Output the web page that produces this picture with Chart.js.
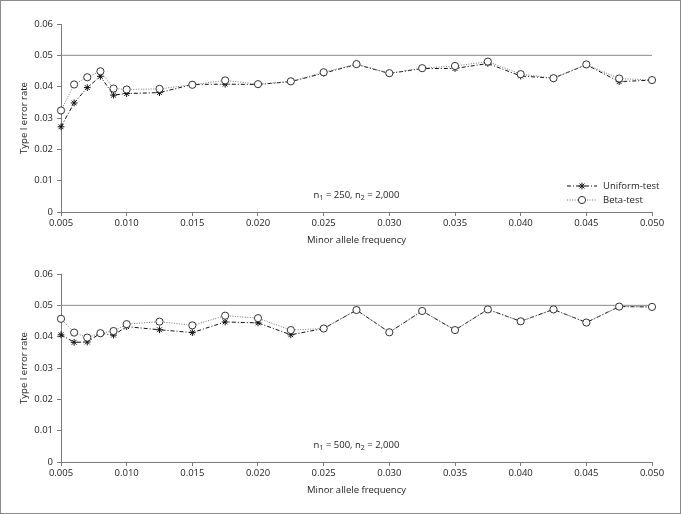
<!DOCTYPE html>
<html>
<head>
<meta charset="utf-8">
<script src="https://cdn.jsdelivr.net/npm/chart.js@4.4.1/dist/chart.umd.min.js"></script>
<style>
  html, body { margin: 0; padding: 0; background: #fff; }
  #page { position: relative; width: 681px; height: 514px; overflow: hidden; }
  #frame { position: absolute; left: 0; top: 0; width: 681px; height: 514px; box-sizing: border-box; border: 1.5px solid #8a8a8a; pointer-events: none; }
  .panel { position: absolute; left: 0; width: 681px; height: 257px; }
</style>
</head>
<body>
<div id="page">
  <div class="panel" style="top:0"><canvas id="topChart"></canvas></div>
  <div class="panel" style="top:250px"><canvas id="bottomChart"></canvas></div>
  <div id="frame"></div>
</div>
<script>
// minor allele frequencies tested (same grid in both panels)
const maf = [0.005, 0.006, 0.007, 0.008, 0.009, 0.010, 0.0125, 0.015, 0.0175, 0.020, 0.0225,
             0.025, 0.0275, 0.030, 0.0325, 0.035, 0.0375, 0.040, 0.0425, 0.045, 0.0475, 0.050];

// n1 = 250, n2 = 2,000
const uniformTop = [0.0272, 0.0348, 0.0397, 0.0433, 0.0373, 0.0378, 0.0381, 0.0407, 0.0408, 0.0407, 0.0416,
                    0.0443, 0.0471, 0.0442, 0.0458, 0.0458, 0.0474, 0.0434, 0.0427, 0.0470, 0.0416, 0.0421];
const betaTop    = [0.0324, 0.0407, 0.0430, 0.0449, 0.0394, 0.0391, 0.0393, 0.0406, 0.0420, 0.0408, 0.0417,
                    0.0446, 0.0472, 0.0443, 0.0459, 0.0466, 0.0480, 0.0440, 0.0427, 0.0471, 0.0426, 0.0421];

// n1 = 500, n2 = 2,000
const uniformBottom = [0.0406, 0.0382, 0.0383, 0.0411, 0.0405, 0.0432, 0.0422, 0.0413, 0.0447, 0.0444, 0.0406,
                       0.0426, 0.0485, 0.0414, 0.0482, 0.0421, 0.0487, 0.0449, 0.0487, 0.0445, 0.0496, 0.0495];
const betaBottom    = [0.0457, 0.0413, 0.0397, 0.0411, 0.0418, 0.0440, 0.0448, 0.0436, 0.0467, 0.0459, 0.0421,
                       0.0426, 0.0485, 0.0414, 0.0482, 0.0421, 0.0487, 0.0449, 0.0487, 0.0445, 0.0496, 0.0495];

const xTicks = [0.005, 0.010, 0.015, 0.020, 0.025, 0.030, 0.035, 0.040, 0.045, 0.050];
const yTicks = [0, 0.01, 0.02, 0.03, 0.04, 0.05, 0.06];
const nominalLevel = 0.05;
const seriesNames = ['Uniform-test', 'Beta-test'];

const FONT = '"Open Sans", "Noto Sans", sans-serif';
const AXIS = '#7a7a7a';
const TEXT = '#222';

const toPoints = ys => ys.map((y, i) => ({ x: maf[i], y: y }));

// legend (top panel only) + sample size note, drawn inside the plot area
const panelText = {
  id: 'panelText',
  afterDatasetsDraw(chart, args, opts) {
    const { ctx, chartArea } = chart;
    ctx.save();
    // sample size text with subscripts
    const parts = opts.note;
    const big = '9.5px ' + FONT, small = '7px ' + FONT;
    let w = 0;
    parts.forEach(p => { ctx.font = p.sub ? small : big; w += ctx.measureText(p.t).width; });
    let x = (chartArea.left + chartArea.right) / 2 - w / 2;
    const y = chartArea.bottom - 17;
    ctx.fillStyle = TEXT;
    ctx.textBaseline = 'middle';
    ctx.textAlign = 'left';
    parts.forEach(p => {
      ctx.font = p.sub ? small : big;
      ctx.fillText(p.t, x, p.sub ? y + 2.5 : y);
      x += ctx.measureText(p.t).width;
    });

    if (opts.legend) {
      const x0 = chartArea.right - 85, x1 = x0 + 30;
      [0, 1].forEach(i => {
        const ds = chart.data.datasets[i];
        const ly = chartArea.bottom - 26 + i * 14;
        ctx.strokeStyle = ds.borderColor;
        ctx.lineWidth = ds.borderWidth;
        ctx.setLineDash(ds.borderDash);
        ctx.beginPath();
        ctx.moveTo(x0, ly); ctx.lineTo(x1, ly);
        ctx.stroke();
        ctx.setLineDash([]);
        ctx.fillStyle = ds.pointBackgroundColor;
        ctx.strokeStyle = ds.pointBorderColor;
        ctx.lineWidth = 1;
        Chart.helpers.drawPoint(ctx, {
          pointStyle: ds.pointStyle, radius: ds.pointRadius, borderWidth: 1, rotation: 0
        }, (x0 + x1) / 2, ly);
        ctx.fillStyle = TEXT;
        ctx.font = '9.5px ' + FONT;
        ctx.fillText(ds.label, x1 + 6, ly);
      });
    }
    ctx.restore();
  }
};

function makePanel(id, uniform, beta, note, showLegend) {
  return new Chart(document.getElementById(id), {
    type: 'line',
    data: {
      datasets: [
        {
          label: seriesNames[0],
          data: toPoints(uniform),
          borderColor: '#111',
          borderWidth: 1,
          borderDash: [4, 2, 1, 2],
          pointStyle: 'star',
          pointRadius: 3.4,
          pointBorderColor: '#111',
          pointBackgroundColor: '#111',
          pointBorderWidth: 1,
          clip: false,
          order: 2
        },
        {
          label: seriesNames[1],
          data: toPoints(beta),
          borderColor: '#777',
          borderWidth: 1,
          borderDash: [1, 1.5],
          pointStyle: 'circle',
          pointRadius: 3.6,
          pointBorderColor: '#333',
          pointBackgroundColor: '#fff',
          pointBorderWidth: 1,
          clip: false,
          order: 1
        },
        {
          label: 'nominal',
          data: [{ x: maf[0], y: nominalLevel }, { x: maf[maf.length - 1], y: nominalLevel }],
          borderColor: '#8a8a8a',
          borderWidth: 1,
          pointRadius: 0,
          order: 3
        }
      ]
    },
    options: {
      responsive: true,
      maintainAspectRatio: false,
      animation: false,
      events: [],
      layout: { padding: { left: 0, right: 29, top: 24, bottom: 8 } },
      plugins: {
        legend: { display: false },
        tooltip: { enabled: false },
        panelText: { note: note, legend: showLegend }
      },
      scales: {
        x: {
          type: 'linear',
          min: 0.005,
          max: 0.050,
          afterBuildTicks: s => { s.ticks = xTicks.map(v => ({ value: v })); },
          afterFit: s => { s.height = 37; },
          grid: { drawOnChartArea: false, color: AXIS, tickLength: 4 },
          border: { color: AXIS, width: 1 },
          ticks: { color: TEXT, font: { family: FONT, size: 9.5 }, padding: 2, maxRotation: 0,
                   callback: v => v.toFixed(3) },
          title: { display: true, text: 'Minor allele frequency', color: TEXT,
                   font: { family: FONT, size: 9.5 }, padding: { top: 0, bottom: 3 } }
        },
        y: {
          min: 0,
          max: 0.06,
          afterBuildTicks: s => { s.ticks = yTicks.map(v => ({ value: v })); },
          afterFit: s => { s.width = 61; },
          grid: { drawOnChartArea: false, color: AXIS, tickLength: 4 },
          border: { color: AXIS, width: 1 },
          ticks: { color: TEXT, font: { family: FONT, size: 9.5 }, padding: 4,
                   callback: v => v === 0 ? '0' : v.toFixed(2) },
          title: { display: true, text: 'Type I error rate', color: TEXT,
                   font: { family: FONT, size: 9.5 }, padding: { top: 19, bottom: 0 } }
        }
      }
    },
    plugins: [panelText]
  });
}

makePanel('topChart', uniformTop, betaTop,
  [{ t: 'n' }, { t: '1', sub: true }, { t: ' = 250, n' }, { t: '2', sub: true }, { t: ' = 2,000' }], true);
makePanel('bottomChart', uniformBottom, betaBottom,
  [{ t: 'n' }, { t: '1', sub: true }, { t: ' = 500, n' }, { t: '2', sub: true }, { t: ' = 2,000' }], false);
</script>
</body>
</html>
